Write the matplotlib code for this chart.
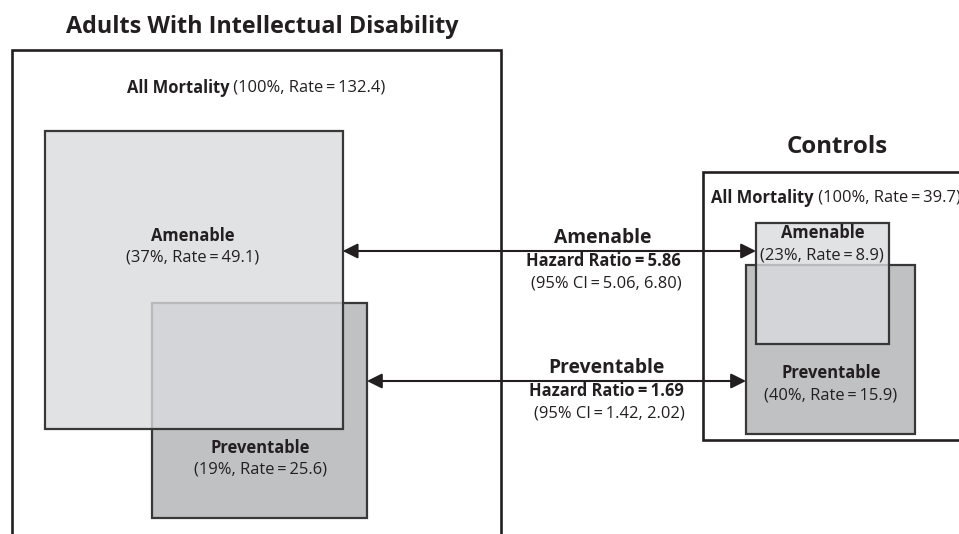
import matplotlib
matplotlib.use('Agg')
import matplotlib.pyplot as plt
from matplotlib.patches import Rectangle
import numpy as np

plt.rcParams['font.family'] = ['Open Sans', 'DejaVu Sans']

# ---- data ----
groups = ['Adults With Intellectual Disability', 'Controls']
categories = ['All Mortality', 'Amenable', 'Preventable']
pct_id = [100, 37, 19]
rate_id = [132.4, 49.1, 25.6]
pct_ctrl = [100, 23, 40]
rate_ctrl = [39.7, 8.9, 15.9]
hr_labels = ['Amenable', 'Preventable']
hazard_ratio = [5.86, 1.69]
ci_low = [5.06, 1.42]
ci_high = [6.80, 2.02]

# ---- layout (pixels) ----
W, H = 959, 534
K = 1805.0  # px^2 per unit of rate (box area proportional to rate)
anchor_id = [(12, 50), (45, 131), (152, 303)]
anchor_ctrl = [(703, 172), (756, 223), (746, 265)]
aspect_id = [1.0, 1.0, 1.0]
aspect_ctrl = [1.0, 1.1, 1.0]

AMEN_FC = (0.855, 0.86, 0.87, 0.8)
PREV_FC = '#c0c1c3'
OUTER_EC = '#231f20'
INNER_EC = '#383838'

fig = plt.figure(figsize=(W / 100, H / 100), dpi=100)
ax = fig.add_axes([0, 0, 1, 1])
ax.set_xlim(0, W)
ax.set_ylim(H, 0)
ax.axis('off')


def box_dims(rate, aspect):
    area = rate * K
    h = np.sqrt(area / aspect)
    return aspect * h, h


def draw_group(anchors, rates, aspects):
    rects = []
    for i, (anc, r, a) in enumerate(zip(anchors, rates, aspects)):
        w, h = box_dims(r, a)
        rects.append((anc[0], anc[1], w, h))
    x, y, w, h = rects[0]
    ax.add_patch(Rectangle((x, y), w, h, fc='white', ec=OUTER_EC, lw=1.9, zorder=1))
    x, y, w, h = rects[2]
    ax.add_patch(Rectangle((x, y), w, h, fc=PREV_FC, ec=INNER_EC, lw=1.6, zorder=2))
    x, y, w, h = rects[1]
    ax.add_patch(Rectangle((x, y), w, h, fc=AMEN_FC, ec=INNER_EC, lw=1.6, zorder=3))
    return rects


r_id = draw_group(anchor_id, rate_id, aspect_id)
r_ct = draw_group(anchor_ctrl, rate_ctrl, aspect_ctrl)

BODY = 11.9
BOLD = 11.9
LABEL = 13.9
TITLE = 16.8
TITLE2 = 17.3


def txt(x, y, s, **kw):
    kw.setdefault('ha', 'center')
    kw.setdefault('va', 'center')
    kw.setdefault('fontsize', BODY)
    kw.setdefault('color', '#231f20')
    return ax.text(x, y, s, zorder=5, **kw)


def rate_str(p, r):
    return f'({p}%, Rate\u2009=\u2009{r})'


txt(262, 27, groups[0], fontsize=TITLE, fontweight='bold')
txt(837, 147, groups[1], fontsize=TITLE2, fontweight='bold')

fig.canvas.draw()
rend = fig.canvas.get_renderer()


def mixed(x, y, bold, regular, align='center'):
    t1 = ax.text(0, y, bold, fontweight='bold', fontsize=BOLD, va='center',
                 ha='left', color='#231f20', zorder=5)
    t2 = ax.text(0, y, ' ' + regular, fontsize=BODY, va='center', ha='left',
                 color='#231f20', zorder=5)
    w1 = t1.get_window_extent(rend).width
    w2 = t2.get_window_extent(rend).width
    x0 = x - (w1 + w2) / 2 if align == 'center' else x
    t1.set_x(x0)
    t2.set_x(x0 + w1)


mixed(256, 88, categories[0], rate_str(pct_id[0], rate_id[0]))
mixed(711, 198, categories[0], rate_str(pct_ctrl[0], rate_ctrl[0]), align='left')

txt(193, 236, categories[1], fontweight='bold', fontsize=BOLD)
txt(193, 258, rate_str(pct_id[1], rate_id[1]))
txt(260, 448, categories[2], fontweight='bold', fontsize=BOLD)
txt(260, 469, rate_str(pct_id[2], rate_id[2]))
txt(823, 233, categories[1], fontweight='bold', fontsize=BOLD)
txt(822, 255, rate_str(pct_ctrl[1], rate_ctrl[1]))
txt(831, 373, categories[2], fontweight='bold', fontsize=BOLD)
txt(831, 395, rate_str(pct_ctrl[2], rate_ctrl[2]))

arrow_y = [251, 381]
hr_x = [603, 606]
for i in range(2):
    src = r_id[i + 1]
    dst = r_ct[i + 1]
    x_start = src[0] + src[2]
    x_end = dst[0]
    y = arrow_y[i]
    ax.annotate('', xy=(x_end, y), xytext=(x_start, y),
                arrowprops=dict(arrowstyle='<|-|>,head_length=0.9,head_width=0.45',
                                color='#231f20', lw=1.5, shrinkA=0, shrinkB=0),
                zorder=6)
    yl = y - 13
    txt(hr_x[i], yl, hr_labels[i], fontweight='bold', fontsize=LABEL)
    txt(hr_x[i], yl + 23, f'Hazard Ratio\u2009=\u2009{hazard_ratio[i]:.2f}',
        fontweight='bold', fontsize=BOLD)
    txt(hr_x[i] + 3, yl + 45, f'(95% CI\u2009=\u2009{ci_low[i]:.2f}, {ci_high[i]:.2f})')

fig.savefig('out.png', dpi=100)
